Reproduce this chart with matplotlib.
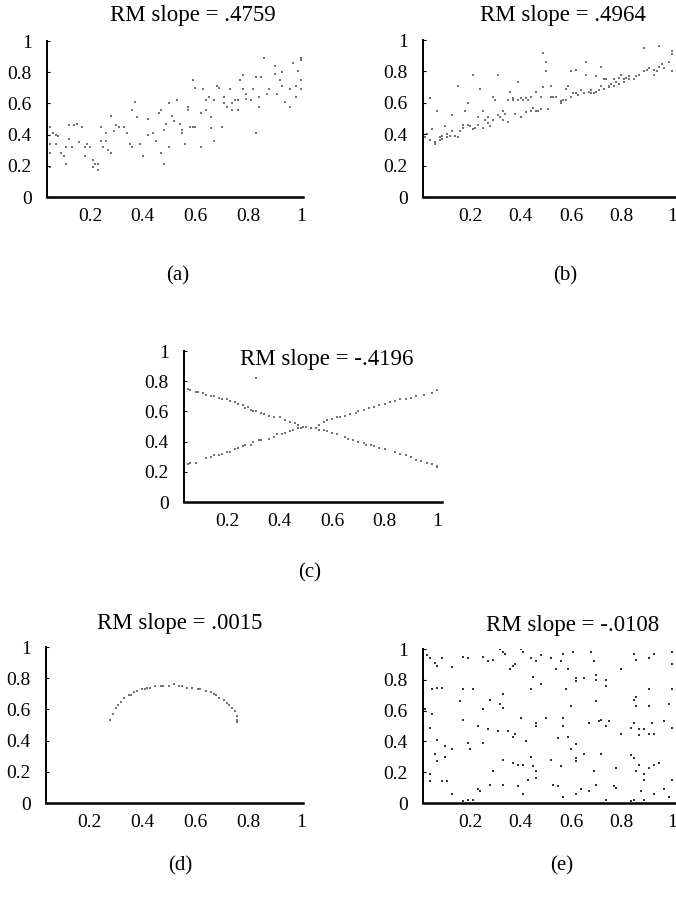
import numpy as np
import matplotlib
matplotlib.use("Agg")
import matplotlib.pyplot as plt

plt.rcParams['font.family'] = ['Liberation Serif', 'DejaVu Serif']

# panel (a): noisy positive trend
a_x = [0.05, 0.05, 0.05, 0.05, 0.06, 0.07, 0.07, 0.08, 0.09, 0.10, 0.11, 0.11, 0.12, 0.12, 0.13, 0.14,
       0.15, 0.16, 0.17, 0.18, 0.18, 0.19, 0.20, 0.21, 0.21, 0.22, 0.23, 0.23, 0.24, 0.24, 0.25, 0.26,
       0.26, 0.27, 0.28, 0.28, 0.29, 0.30, 0.31, 0.31, 0.33, 0.34, 0.35, 0.36, 0.36, 0.37, 0.38, 0.39,
       0.40, 0.42, 0.42, 0.44, 0.45, 0.46, 0.47, 0.47, 0.48, 0.48, 0.49, 0.50, 0.50, 0.51, 0.52, 0.53,
       0.54, 0.55, 0.55, 0.56, 0.57, 0.57, 0.58, 0.59, 0.59, 0.60, 0.60, 0.62, 0.62, 0.63, 0.64, 0.64,
       0.65, 0.66, 0.66, 0.67, 0.67, 0.68, 0.69, 0.70, 0.71, 0.71, 0.72, 0.73, 0.74, 0.74, 0.75, 0.76,
       0.76, 0.77, 0.78, 0.78, 0.79, 0.79, 0.81, 0.82, 0.83, 0.83, 0.84, 0.84, 0.85, 0.86, 0.87, 0.88,
       0.90, 0.90, 0.91, 0.92, 0.93, 0.93, 0.94, 0.96, 0.96, 0.97, 0.98, 0.98, 0.99, 1.00, 1.00, 1.00,
       1.00]
a_y = [0.45, 0.34, 0.28, 0.19, 0.41, 0.34, 0.40, 0.39, 0.28, 0.26, 0.32, 0.21, 0.46, 0.37, 0.32, 0.46,
       0.47, 0.35, 0.45, 0.32, 0.26, 0.34, 0.32, 0.24, 0.19, 0.21, 0.17, 0.21, 0.45, 0.36, 0.32, 0.41,
       0.36, 0.30, 0.28, 0.52, 0.42, 0.46, 0.45, 0.45, 0.45, 0.41, 0.34, 0.32, 0.56, 0.61, 0.51, 0.34,
       0.26, 0.50, 0.40, 0.41, 0.36, 0.54, 0.56, 0.28, 0.21, 0.43, 0.47, 0.32, 0.60, 0.52, 0.49, 0.62,
       0.47, 0.43, 0.41, 0.34, 0.58, 0.56, 0.45, 0.45, 0.75, 0.70, 0.45, 0.54, 0.32, 0.69, 0.56, 0.62,
       0.64, 0.51, 0.44, 0.36, 0.62, 0.71, 0.70, 0.45, 0.64, 0.60, 0.58, 0.69, 0.56, 0.60, 0.62, 0.62,
       0.56, 0.75, 0.78, 0.69, 0.66, 0.63, 0.62, 0.69, 0.77, 0.41, 0.58, 0.64, 0.77, 0.89, 0.66, 0.69,
       0.79, 0.84, 0.66, 0.75, 0.71, 0.80, 0.61, 0.58, 0.69, 0.86, 0.64, 0.71, 0.81, 0.88, 0.75, 0.89,
       0.69]

# panel (b): dense lower edge with scatter above
b_x = [0.02, 0.03, 0.04, 0.04, 0.05, 0.06, 0.06, 0.07, 0.08, 0.08, 0.09, 0.09, 0.10, 0.11, 0.11, 0.12,
       0.13, 0.13, 0.14, 0.15, 0.15, 0.16, 0.17, 0.17, 0.18, 0.19, 0.19, 0.20, 0.21, 0.21, 0.22, 0.23,
       0.23, 0.24, 0.25, 0.25, 0.26, 0.27, 0.27, 0.28, 0.29, 0.29, 0.30, 0.31, 0.31, 0.32, 0.33, 0.33,
       0.34, 0.35, 0.35, 0.36, 0.37, 0.37, 0.38, 0.39, 0.39, 0.40, 0.40, 0.41, 0.42, 0.42, 0.43, 0.44,
       0.44, 0.45, 0.46, 0.46, 0.47, 0.48, 0.48, 0.49, 0.49, 0.50, 0.50, 0.51, 0.52, 0.52, 0.53, 0.54,
       0.56, 0.56, 0.57, 0.58, 0.58, 0.59, 0.60, 0.60, 0.61, 0.62, 0.62, 0.63, 0.64, 0.64, 0.65, 0.66,
       0.66, 0.67, 0.68, 0.68, 0.69, 0.70, 0.70, 0.71, 0.72, 0.72, 0.73, 0.73, 0.74, 0.75, 0.75, 0.76,
       0.77, 0.77, 0.78, 0.79, 0.79, 0.80, 0.81, 0.81, 0.82, 0.83, 0.83, 0.85, 0.86, 0.87, 0.89, 0.89,
       0.90, 0.91, 0.93, 0.93, 0.94, 0.95, 0.95, 0.96, 0.97, 0.99, 1.00, 1.00, 1.00]
b_y = [0.38, 0.40, 0.63, 0.36, 0.43, 0.34, 0.35, 0.55, 0.38, 0.36, 0.37, 0.39, 0.45, 0.40, 0.38, 0.39,
       0.52, 0.42, 0.39, 0.71, 0.38, 0.42, 0.46, 0.44, 0.55, 0.60, 0.46, 0.45, 0.78, 0.43, 0.44, 0.46,
       0.51, 0.69, 0.44, 0.55, 0.49, 0.47, 0.51, 0.45, 0.64, 0.49, 0.62, 0.52, 0.78, 0.51, 0.55, 0.49,
       0.53, 0.48, 0.62, 0.67, 0.62, 0.63, 0.53, 0.62, 0.73, 0.51, 0.63, 0.62, 0.63, 0.54, 0.62, 0.55,
       0.64, 0.57, 0.67, 0.55, 0.55, 0.64, 0.56, 0.70, 0.92, 0.86, 0.80, 0.56, 0.64, 0.71, 0.64, 0.64,
       0.60, 0.61, 0.62, 0.69, 0.62, 0.71, 0.80, 0.64, 0.66, 0.81, 0.66, 0.65, 0.68, 0.68, 0.66, 0.86,
       0.78, 0.67, 0.66, 0.68, 0.66, 0.67, 0.77, 0.68, 0.71, 0.83, 0.75, 0.69, 0.75, 0.71, 0.70, 0.72,
       0.75, 0.71, 0.73, 0.76, 0.72, 0.78, 0.75, 0.73, 0.76, 0.75, 0.77, 0.75, 0.77, 0.78, 0.80, 0.95,
       0.81, 0.82, 0.78, 0.81, 0.80, 0.96, 0.83, 0.85, 0.82, 0.86, 0.91, 0.93, 0.80]

# panel (c): two crossing lines plus one stray point
c_down_x = [0.05, 0.06, 0.08, 0.09, 0.11, 0.12, 0.14, 0.15, 0.17, 0.18, 0.20, 0.21, 0.23, 0.24, 0.26,
            0.27, 0.28, 0.29, 0.30, 0.31, 0.33, 0.34, 0.36, 0.38, 0.40, 0.42, 0.44, 0.46, 0.47, 0.49,
            0.50, 0.52, 0.54, 0.55, 0.57, 0.58, 0.60, 0.62, 0.65, 0.66, 0.68, 0.70, 0.72, 0.73, 0.75,
            0.76, 0.78, 0.80, 0.84, 0.86, 0.88, 0.90, 0.92, 0.94, 0.96, 0.98, 1.00, 1.00]
c_down_y = [0.75, 0.74, 0.73, 0.73, 0.72, 0.71, 0.70, 0.70, 0.69, 0.68, 0.68, 0.67, 0.66, 0.65, 0.64,
            0.62, 0.63, 0.61, 0.60, 0.60, 0.59, 0.58, 0.57, 0.56, 0.56, 0.54, 0.53, 0.52, 0.51, 0.50,
            0.50, 0.49, 0.49, 0.48, 0.48, 0.47, 0.46, 0.45, 0.43, 0.42, 0.41, 0.40, 0.39, 0.38, 0.38,
            0.37, 0.36, 0.35, 0.33, 0.32, 0.31, 0.30, 0.28, 0.27, 0.26, 0.25, 0.24, 0.23]
c_up_x = [0.05, 0.06, 0.08, 0.12, 0.14, 0.15, 0.17, 0.18, 0.20, 0.21, 0.23, 0.24, 0.26, 0.27, 0.29,
          0.30, 0.32, 0.33, 0.36, 0.38, 0.39, 0.41, 0.42, 0.44, 0.45, 0.47, 0.48, 0.50, 0.55, 0.57,
          0.58, 0.60, 0.62, 0.63, 0.65, 0.67, 0.69, 0.70, 0.72, 0.74, 0.76, 0.78, 0.80, 0.82, 0.84,
          0.86, 0.88, 0.90, 0.92, 0.95, 0.98, 1.00, 0.31]
c_up_y = [0.25, 0.26, 0.26, 0.29, 0.30, 0.31, 0.31, 0.32, 0.33, 0.33, 0.35, 0.36, 0.37, 0.38, 0.38,
          0.40, 0.41, 0.41, 0.42, 0.43, 0.45, 0.45, 0.46, 0.47, 0.48, 0.49, 0.49, 0.50, 0.51, 0.53,
          0.54, 0.55, 0.56, 0.56, 0.57, 0.58, 0.59, 0.60, 0.61, 0.62, 0.63, 0.64, 0.65, 0.66, 0.67,
          0.68, 0.68, 0.69, 0.70, 0.71, 0.72, 0.74, 0.82]

# panel (d): arc
d_x = [0.28, 0.29, 0.30, 0.31, 0.32, 0.33, 0.35, 0.36, 0.37, 0.38, 0.40, 0.41, 0.42, 0.43, 0.45,
       0.47, 0.48, 0.50, 0.52, 0.54, 0.55, 0.57, 0.59, 0.61, 0.62, 0.64, 0.66, 0.67, 0.68, 0.69,
       0.71, 0.72, 0.73, 0.74, 0.75, 0.76, 0.76, 0.76]
d_y = [0.53, 0.57, 0.61, 0.63, 0.65, 0.67, 0.69, 0.69, 0.71, 0.72, 0.73, 0.73, 0.74, 0.74, 0.75,
       0.75, 0.75, 0.75, 0.76, 0.75, 0.75, 0.74, 0.74, 0.73, 0.73, 0.72, 0.71, 0.70, 0.69, 0.67,
       0.66, 0.64, 0.63, 0.61, 0.59, 0.56, 0.53, 0.52]

# panel (e): no relation
e_x = [0.03, 0.04, 0.06, 0.07, 0.09, 0.13, 0.17, 0.19, 0.25, 0.27, 0.29, 0.32, 0.33, 0.34, 0.37, 0.40,
       0.41, 0.44, 0.46, 0.48, 0.52, 0.56, 0.57, 0.59, 0.61, 0.62, 0.65, 0.68, 0.69, 0.70, 0.74, 0.80,
       0.85, 0.86, 0.91, 0.93, 1.00, 1.00, 0.05, 0.07, 0.09, 0.17, 0.21, 0.33, 0.36, 0.38, 0.44, 0.48,
       0.54, 0.58, 0.62, 0.70, 0.74, 0.85, 0.91, 1.00, 0.02, 0.05, 0.16, 0.25, 0.28, 0.32, 0.33, 0.40,
       0.45, 0.50, 0.57, 0.60, 0.70, 0.72, 0.75, 0.86, 0.86, 0.91, 0.99, 0.92, 0.85, 0.87, 0.89, 0.93,
       0.04, 0.07, 0.17, 0.19, 0.23, 0.25, 0.27, 0.31, 0.35, 0.37, 0.38, 0.42, 0.46, 0.46, 0.55, 0.57,
       0.59, 0.62, 0.67, 0.71, 0.74, 0.80, 0.84, 0.87, 0.91, 0.97, 1.00, 0.06, 0.07, 0.10, 0.10, 0.13,
       0.20, 0.29, 0.33, 0.37, 0.39, 0.41, 0.44, 0.45, 0.46, 0.52, 0.56, 0.60, 0.62, 0.62, 0.65, 0.69,
       0.72, 0.78, 0.84, 0.85, 0.86, 0.87, 0.89, 0.89, 0.91, 0.93, 0.95, 0.04, 0.04, 0.09, 0.11, 0.13,
       0.17, 0.19, 0.21, 0.23, 0.24, 0.28, 0.33, 0.39, 0.41, 0.43, 0.46, 0.53, 0.55, 0.57, 0.62, 0.64,
       0.67, 0.70, 0.74, 0.77, 0.78, 0.84, 0.85, 0.88, 0.89, 0.93, 0.97, 0.99, 1.00]
e_y = [0.96, 0.94, 0.91, 0.89, 0.94, 0.88, 0.95, 0.94, 0.95, 0.92, 0.93, 1.00, 0.98, 0.97, 0.89, 1.00,
       0.98, 0.94, 0.92, 0.96, 0.94, 0.92, 0.97, 0.87, 0.98, 0.81, 0.81, 0.98, 0.92, 0.80, 0.80, 0.87,
       0.97, 0.93, 0.94, 0.97, 0.90, 0.98, 0.74, 0.75, 0.75, 0.74, 0.74, 0.71, 0.87, 0.90, 0.74, 0.77,
       0.87, 0.74, 0.79, 0.83, 0.76, 0.67, 0.74, 0.74, 0.61, 0.58, 0.66, 0.61, 0.67, 0.64, 0.62, 0.55,
       0.82, 0.55, 0.55, 0.63, 0.66, 0.54, 0.53, 0.69, 0.63, 0.63, 0.64, 0.52, 0.52, 0.48, 0.48, 0.45,
       0.49, 0.41, 0.54, 0.39, 0.50, 0.39, 0.48, 0.47, 0.47, 0.43, 0.45, 0.40, 0.52, 0.50, 0.42, 0.50,
       0.43, 0.38, 0.52, 0.53, 0.50, 0.45, 0.49, 0.44, 0.45, 0.53, 0.49, 0.32, 0.27, 0.37, 0.30, 0.35,
       0.35, 0.21, 0.28, 0.26, 0.25, 0.25, 0.30, 0.24, 0.21, 0.28, 0.24, 0.35, 0.29, 0.27, 0.32, 0.21,
       0.32, 0.23, 0.31, 0.29, 0.21, 0.25, 0.19, 0.15, 0.23, 0.25, 0.26, 0.19, 0.14, 0.14, 0.14, 0.06,
       0.01, 0.02, 0.02, 0.09, 0.08, 0.12, 0.12, 0.11, 0.06, 0.15, 0.16, 0.12, 0.11, 0.04, 0.06, 0.09,
       0.08, 0.12, 0.02, 0.11, 0.10, 0.01, 0.02, 0.08, 0.02, 0.06, 0.09, 0.04, 0.15]

titles = ["RM slope = .4759", "RM slope = .4964", "RM slope = -.4196",
          "RM slope = .0015", "RM slope = -.0108"]
captions = ["(a)", "(b)", "(c)", "(d)", "(e)"]
y_ticks = [0, 0.2, 0.4, 0.6, 0.8, 1]
y_labels = ["0", "0.2", "0.4", "0.6", "0.8", "1"]
x_ticks = [0.2, 0.4, 0.6, 0.8, 1]
x_labels = ["0.2", "0.4", "0.6", "0.8", "1"]

W, H = 676, 900
fig = plt.figure(figsize=(W / 100, H / 100), dpi=100)


def px_axes(l, r, t, b):
    return fig.add_axes([l / W, 1 - b / H, (r - l) / W, (b - t) / H])


def style(ax, xlim):
    ax.set_xlim(*xlim)
    ax.set_ylim(0, 1)
    for s in ["top", "right"]:
        ax.spines[s].set_visible(False)
    ax.spines["left"].set_linewidth(1.4)
    ax.spines["bottom"].set_linewidth(1.8)
    ax.set_yticks(y_ticks, y_labels)
    ax.set_xticks(x_ticks, x_labels)
    ax.tick_params(axis="y", direction="in", length=2, width=0.8, pad=11, labelsize=14)
    ax.tick_params(axis="x", length=0, pad=8, labelsize=14)
    ax.patch.set_alpha(0)


dot = dict(s=1.8, c="0.45", marker="s", linewidths=0)

# (a)
ax_a = px_axes(47, 303, 41, 197)
style(ax_a, (0.037, 1.008))
ax_a.scatter(a_x, a_y, **dot)

# (b)
ax_b = px_axes(423, 676, 40, 197)
style(ax_b, (0.013, 1.017))
ax_b.scatter(b_x, b_y, **dot)

# (c)
ax_c = px_axes(184, 442, 351, 502)
style(ax_c, (0.036, 1.019))
ax_c.scatter(c_down_x, c_down_y, **dot)
ax_c.scatter(c_up_x, c_up_y, **dot)

# (d)
ax_d = px_axes(46, 303, 647, 803)
style(ax_d, (0.037, 1.008))
ax_d.scatter(d_x, d_y, **dot)

# (e)
ax_e = px_axes(423, 676, 649, 803)
style(ax_e, (0.013, 1.017))
ax_e.scatter(e_x, e_y, s=1.8, c="0.2", marker="s", linewidths=0)

title_pos = [(193, 16), (563, 16), (327, 360), (180, 624), (573, 626)]
cap_pos = [(178, 276), (565, 276), (310, 573), (180, 866), (562, 866)]
for t, (x, y) in zip(titles, title_pos):
    fig.text(x / W, 1 - y / H, t, ha="center", va="center", fontsize=16.5)
for c, (x, y) in zip(captions, cap_pos):
    fig.text(x / W, 1 - y / H, c, ha="center", va="center", fontsize=15)

fig.savefig("out.png", dpi=100)
